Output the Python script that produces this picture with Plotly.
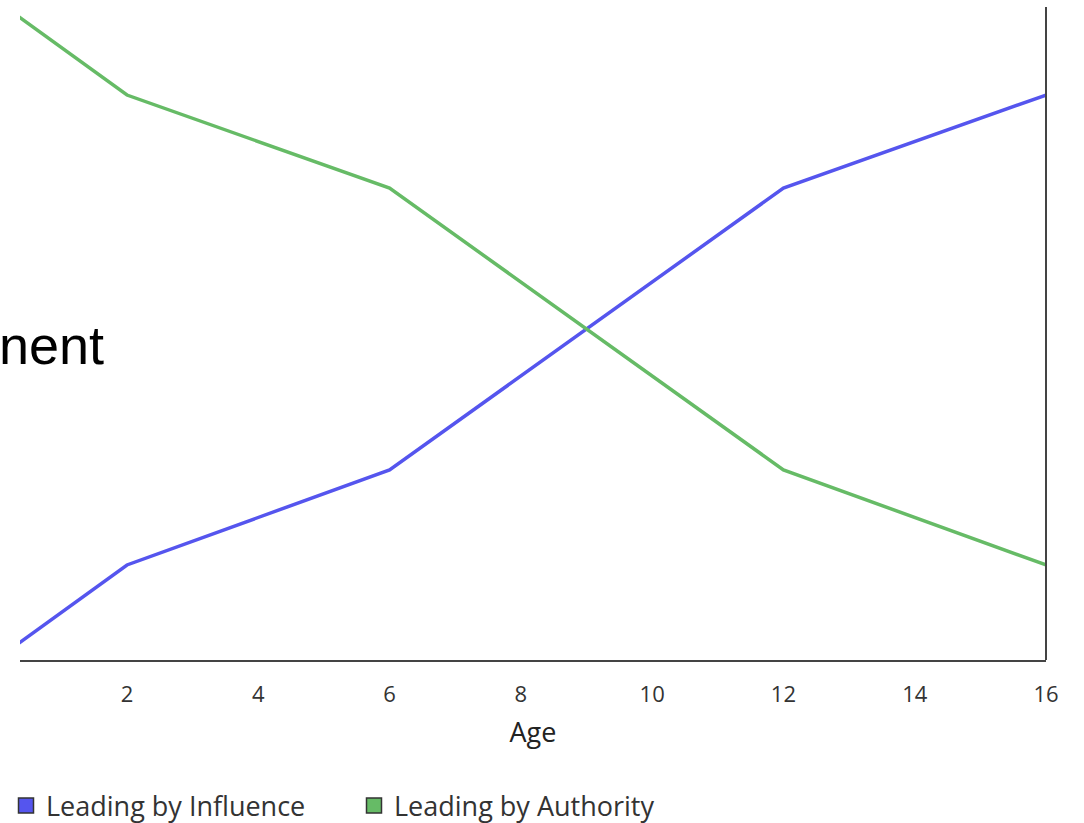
import plotly.graph_objects as go

# Age in years and relative share of each leadership style
ages = [0, 2, 6, 12, 16]
influence = [0, 14.4, 28.8, 71.5, 85.6]
authority = [100, 85.6, 71.5, 28.8, 14.4]
x_ticks = [2, 4, 6, 8, 10, 12, 14, 16]

blue = "#5555ee"
green = "#66bb66"
tick_font = dict(family="Open Sans", size=22, color="#333333")
legend_font = dict(family="Open Sans", size=27, color="#333333")

fig = go.Figure()

fig.add_trace(go.Scatter(x=ages, y=influence, mode="lines",
                         line=dict(color=blue, width=3.5), showlegend=False))
fig.add_trace(go.Scatter(x=ages, y=authority, mode="lines",
                         line=dict(color=green, width=3.5), showlegend=False))

# Square swatches, one legend per series so each can be placed on its own
fig.add_trace(go.Scatter(x=[None], y=[None], mode="markers", name="Leading by Influence",
                         legend="legend",
                         marker=dict(symbol="square", size=15, color=blue,
                                     line=dict(color="#333333", width=1.5))))
fig.add_trace(go.Scatter(x=[None], y=[None], mode="markers", name="Leading by Authority",
                         legend="legend2",
                         marker=dict(symbol="square", size=15, color=green,
                                     line=dict(color="#333333", width=1.5))))

legend_common = dict(orientation="h", xanchor="left", xref="container", yref="container",
                     y=17 / 823, yanchor="middle", font=legend_font, itemclick=False,
                     bgcolor="rgba(0,0,0,0)")

fig.update_layout(
    width=1084, height=823,
    margin=dict(l=20, r=38, t=0, b=163),
    paper_bgcolor="white", plot_bgcolor="white",
    showlegend=True,
    legend=dict(x=6 / 1084, **legend_common),
    legend2=dict(x=354 / 1084, **legend_common),
    xaxis=dict(range=[0.37, 16], tickvals=x_ticks, ticks="", showgrid=False,
               zeroline=False, showline=True, linecolor="#444444", linewidth=2,
               tickfont=tick_font, ticklabelstandoff=14,
               title=dict(text="Age", font=dict(family="Open Sans", size=27, color="#222222"),
                          standoff=16)),
    yaxis=dict(range=[0, 100], showgrid=False, zeroline=False, showline=False,
               showticklabels=False, ticks=""),
    shapes=[dict(type="line", xref="paper", yref="paper", x0=1, x1=1, y0=0, y1=653 / 660,
                 line=dict(color="#444444", width=2))],
    annotations=[dict(text="nent", xref="paper", yref="paper", x=-23 / 1026, y=(660 - 345) / 660,
                      xanchor="left", yanchor="middle", showarrow=False,
                      font=dict(family="Liberation Sans", size=54, color="#000000"))],
)

fig.write_html("out.html")
